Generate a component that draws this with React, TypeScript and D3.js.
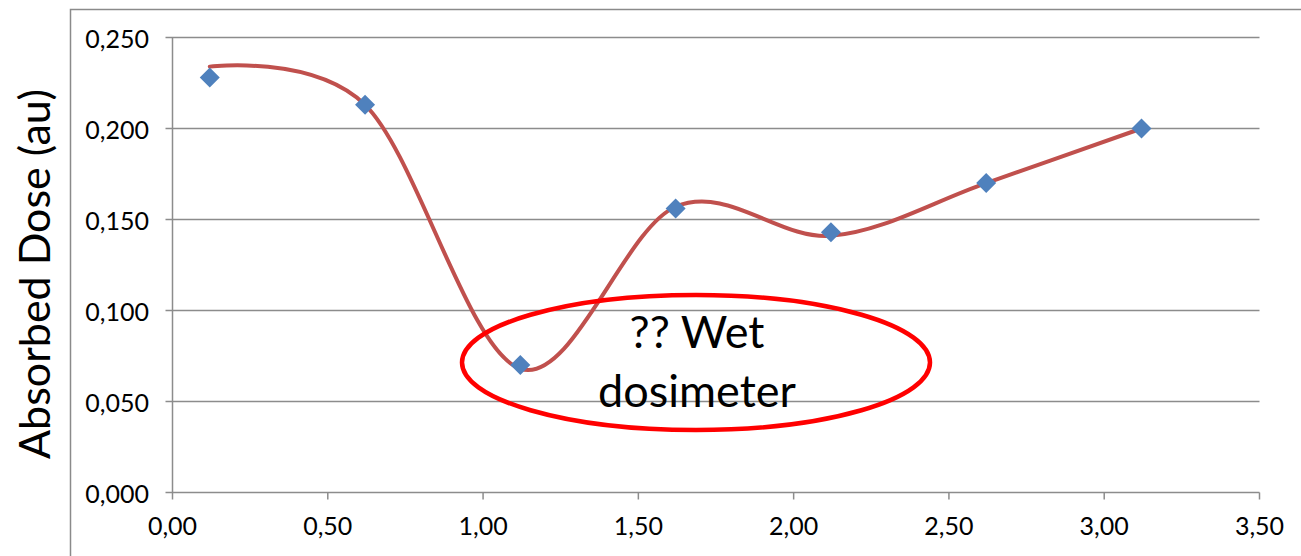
import React from "react";
import * as d3 from "d3";

const xValues = [0.12, 0.62, 1.12, 1.62, 2.12, 2.62, 3.12];
const markerValues = [0.228, 0.213, 0.07, 0.156, 0.143, 0.17, 0.2];
const lineValues = [0.234, 0.213, 0.068, 0.157, 0.141, 0.17, 0.2];
const xTicks = [0, 0.5, 1, 1.5, 2, 2.5, 3, 3.5];
const yTicks = [0, 0.05, 0.1, 0.15, 0.2, 0.25];
const yLabel = "Absorbed Dose (au)";
const noteLines = ["?? Wet", "dosimeter"];

const W = 1301;
const H = 556;
const FONT = "Lato, 'Open Sans', sans-serif";

export default function App() {
  const x = d3.scaleLinear().domain([0, 3.5]).range([172.5, 1259.5]);
  const y = d3.scaleLinear().domain([0, 0.25]).range([492.5, 37.5]);
  const line = d3
    .line<number>()
    .x((_, i) => x(xValues[i]))
    .y((d) => y(d))
    .curve(d3.curveCatmullRom.alpha(0));
  const diamond = (cx: number, cy: number, r: number) =>
    `M${cx},${cy - r}L${cx + r},${cy}L${cx},${cy + r}L${cx - r},${cy}Z`;
  const grid = "#8c8c8c";
  return (
    <svg
      width={W}
      height={H}
      style={{ position: "absolute", left: 0, top: 0, background: "#fff" }}
    >
      <rect x={0} y={0} width={W} height={H} fill="#fff" />
      {/* chart frame */}
      <path d={`M70.5,${H + 2}V9.5H${W + 2}`} fill="none" stroke="#8a8a8a" strokeWidth={1.5} />
      {/* gridlines */}
      {yTicks.map((t) => (
        <line
          key={"g" + t}
          x1={x(0) - 7}
          x2={x(3.5)}
          y1={y(t)}
          y2={y(t)}
          stroke={grid}
          strokeWidth={1.5}
        />
      ))}
      {/* y axis */}
      <line x1={x(0)} x2={x(0)} y1={y(0.25)} y2={y(0)} stroke={grid} strokeWidth={1.5} />
      {xTicks.map((t) => (
        <line key={"xt" + t} x1={x(t)} x2={x(t)} y1={y(0)} y2={y(0) + 7} stroke={grid} strokeWidth={1.5} />
      ))}
      {yTicks.map((t) => (
        <text
          key={"yl" + t}
          x={149}
          y={y(t)}
          textAnchor="end"
          dominantBaseline="central"
          fontFamily={FONT}
          fontSize={25}
          fill="#000"
        >
          {d3.format(".3f")(t).replace(".", ",")}
        </text>
      ))}
      {xTicks.map((t) => (
        <text
          key={"xl" + t}
          x={x(t)}
          y={535}
          textAnchor="middle"
          fontFamily={FONT}
          fontSize={25}
          fill="#000"
        >
          {d3.format(".2f")(t).replace(".", ",")}
        </text>
      ))}
      <text
        transform={`translate(50,${274}) rotate(-90)`}
        textAnchor="middle"
        fontFamily={FONT}
        fontSize={43}
        fill="#000"
      >
        {yLabel}
      </text>
      {/* smoothed line */}
      <path d={line(lineValues) || ""} fill="none" stroke="#C0504D" strokeWidth={4} strokeLinecap="round" />
      {/* markers */}
      {markerValues.map((v, i) => (
        <path key={"m" + i} d={diamond(x(xValues[i]), y(v), 10)} fill="#4F81BD" />
      ))}
      {/* annotation */}
      <ellipse cx={696} cy={362.5} rx={234} ry={67.5} fill="none" stroke="#FF0000" strokeWidth={4.5} />
      {noteLines.map((s, i) => (
        <text
          key={"n" + i}
          x={697}
          y={348 + i * 59}
          textAnchor="middle"
          fontFamily={FONT}
          fontSize={45}
          fill="#000"
        >
          {s}
        </text>
      ))}
    </svg>
  );
}
